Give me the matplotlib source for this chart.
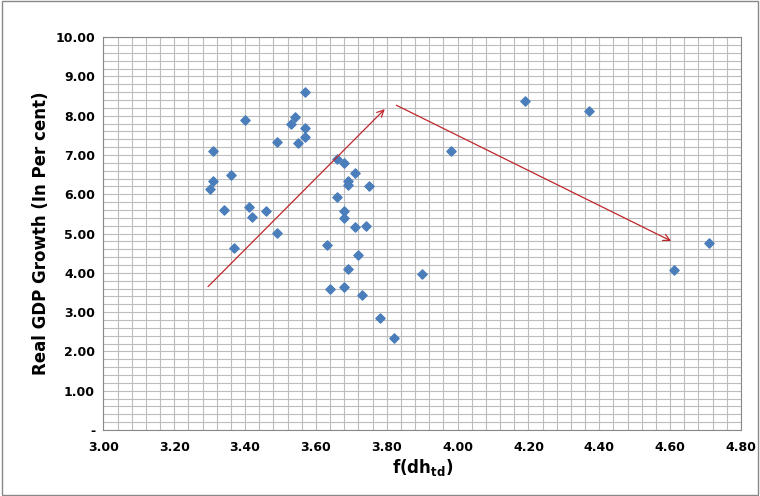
import matplotlib
matplotlib.use('Agg')
import matplotlib.pyplot as plt
import numpy as np

# f(dh_td) vs real GDP growth
fdh = [3.30, 3.31, 3.31, 3.34, 3.36, 3.37, 3.40, 3.41, 3.42, 3.46, 3.49, 3.49,
       3.53, 3.54, 3.55, 3.57, 3.57, 3.57, 3.63, 3.64, 3.66, 3.66, 3.68, 3.68,
       3.68, 3.69, 3.69, 3.68, 3.69, 3.71, 3.71, 3.72, 3.73, 3.74, 3.75, 3.78,
       3.82, 3.90, 3.98, 4.19, 4.37, 4.61, 4.71]
gdp = [6.13, 6.35, 7.10, 5.60, 6.50, 4.63, 7.88, 5.67, 5.42, 5.57, 7.33, 5.01,
       7.80, 7.97, 7.30, 8.60, 7.68, 7.45, 4.70, 3.60, 5.93, 6.90, 6.80, 5.57,
       5.40, 6.23, 6.35, 3.65, 4.10, 6.55, 5.17, 4.45, 3.45, 5.20, 6.22, 2.85,
       2.35, 3.97, 7.10, 8.38, 8.12, 4.08, 4.75]

# trend arrows (start, end)
arrow1 = ((3.29, 3.60), (3.80, 8.22))
arrow2 = ((3.82, 8.30), (4.61, 4.78))

fig = plt.figure(figsize=(7.6, 4.96), dpi=100)
ax = fig.add_axes([0.136, 0.133, 0.839, 0.792])

ax.scatter(fdh, gdp, marker='D', s=22, color='#4a7ebb', zorder=3)

for (x0, y0), (x1, y1) in [arrow1, arrow2]:
    ax.annotate('', xy=(x1, y1), xytext=(x0, y0),
                arrowprops=dict(arrowstyle='->', color='#c0262b', lw=0.9,
                                mutation_scale=12), zorder=4)

ax.set_xlim(3.0, 4.8)
ax.set_ylim(0, 10)
ax.set_xticks(np.arange(3.0, 4.81, 0.2))
ax.set_yticks(np.arange(0, 10.01, 1.0))
ax.set_xticks(np.arange(3.0, 4.81, 0.04), minor=True)
ax.set_yticks(np.arange(0, 10.01, 0.2), minor=True)
ax.set_xticklabels(['%.2f' % v for v in np.arange(3.0, 4.81, 0.2)])
ax.set_yticklabels(['-'] + ['%.2f' % v for v in np.arange(1, 10.01, 1.0)])
ax.grid(True, which='both', color='#bcbcbc', lw=0.8)
ax.set_axisbelow(True)
ax.tick_params(which='both', length=0)
ax.tick_params(labelsize=9)
ax.tick_params(axis='x', pad=8)
ax.tick_params(axis='y', pad=6)
for lab in ax.get_xticklabels() + ax.get_yticklabels():
    lab.set_fontweight('bold')
for s in ax.spines.values():
    s.set_color('#888888')

ax.set_xlabel(r'f(dh$_{\mathbf{td}}$)', fontsize=12, fontweight='bold', labelpad=2)
ax.set_ylabel('Real GDP Growth (In Per cent)', fontsize=12, fontweight='bold')

fig.patches.append(plt.Rectangle((0.002, 0.002), 0.996, 0.996, transform=fig.transFigure,
                                 fill=False, edgecolor='#888888', lw=1))
plt.savefig('out.png')
